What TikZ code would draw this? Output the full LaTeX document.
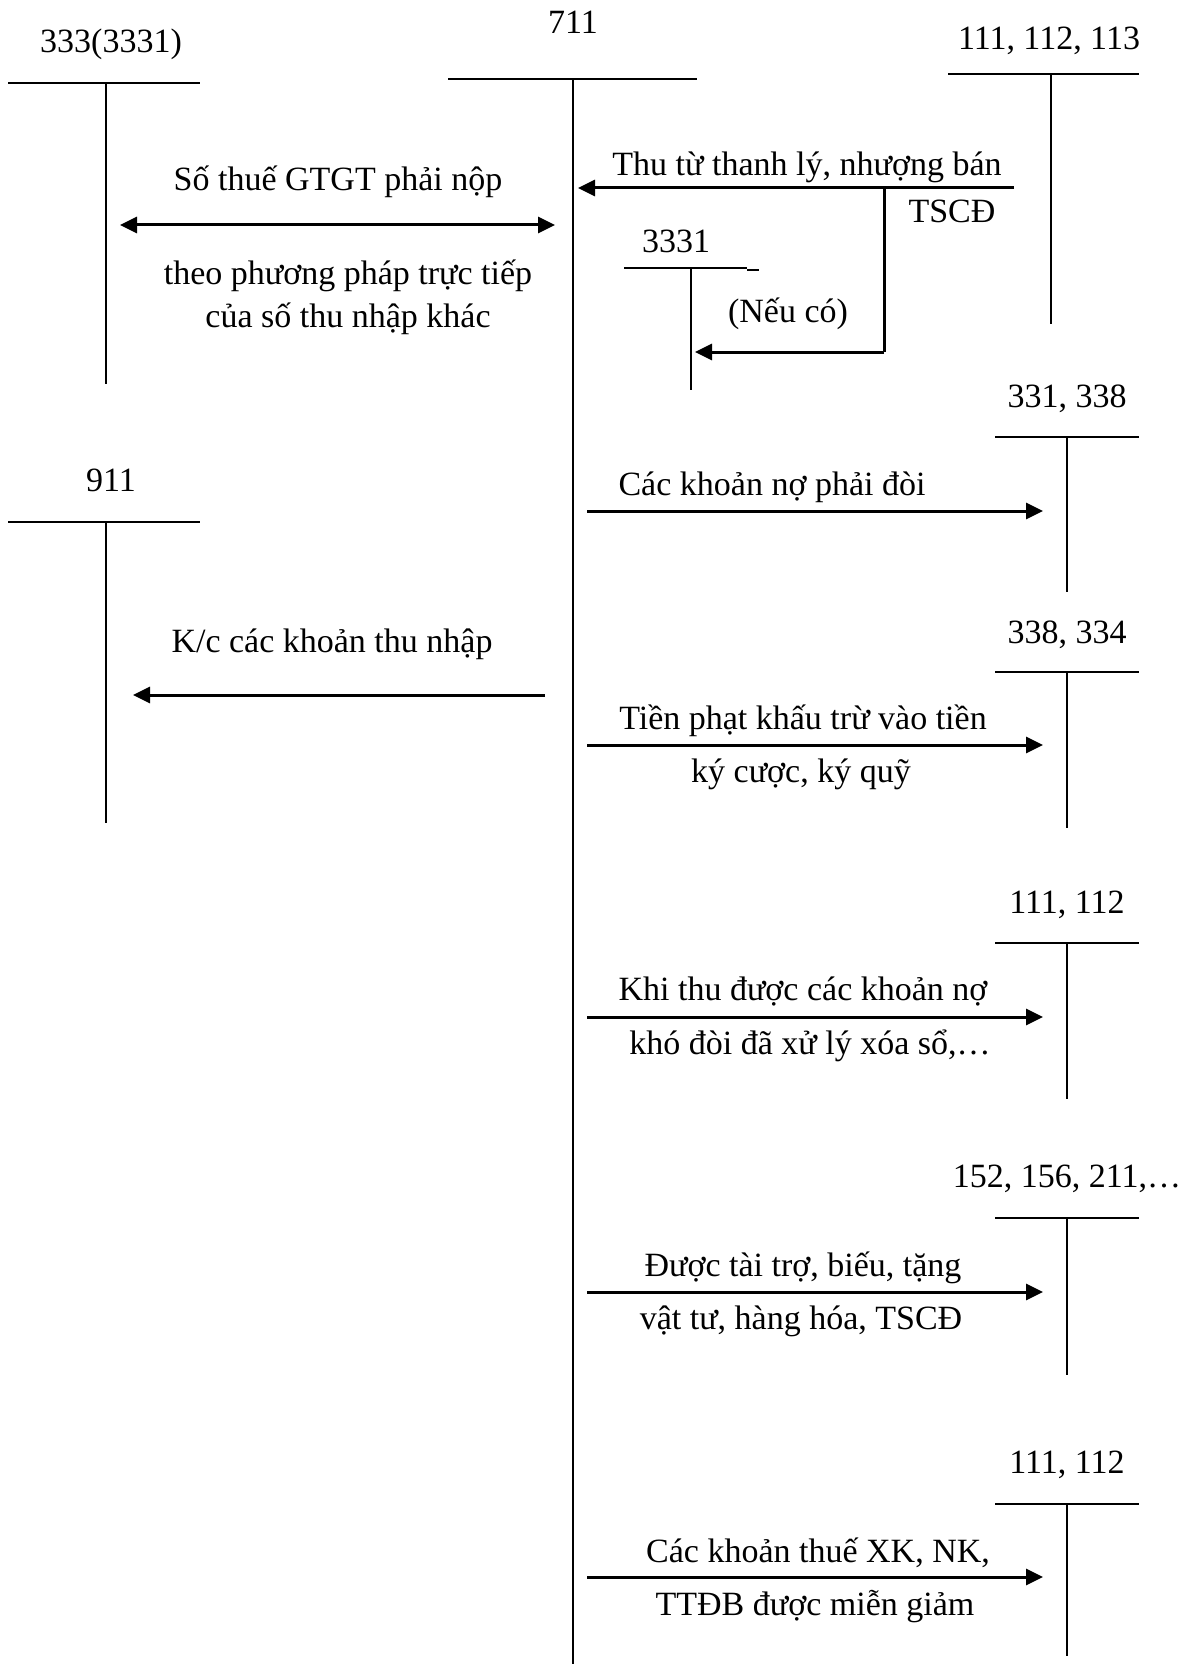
\documentclass[tikz,border=0pt]{standalone}
\usepackage{fontspec}
\setmainfont{Liberation Serif}
\usetikzlibrary{arrows.meta}
\tikzset{
  tacc/.style = {line width = 0.8pt},
  flow/.style = {line width = 1.5pt, -{Triangle[length = 8.5pt, width = 8pt]}},
  flowboth/.style = {line width = 1.5pt, {Triangle[length = 8.5pt, width = 8pt]}-{Triangle[length = 8.5pt, width = 8pt]}},
  lbl/.style = {font = \fontsize{17}{20}\selectfont, inner sep = 0pt, anchor = base}
}
\begin{document}
\begin{tikzpicture}[x = 0.5pt, y = -0.5pt]
        \useasboundingbox (0, 0) rectangle (1192, 1664);
        % T accounts: name/label/label x/baseline/left/right/top/stem x/bottom
        \foreach \tn/\tt/\lx/\ly/\hl/\hr/\hy/\vx/\vb in {
            a333/{333(3331)}/111/53/8/200/83/106/384,
            a711/{711}/573/34/448/697/79/573/1664,
            a111/{111, 112, 113}/1049/50/948/1139/74/1051/324,
            a3331/{3331}/676/253/624/747/268/691/390,
            a331/{331, 338}/1067/407/995/1139/437/1067/592,
            a911/{911}/111/491/8/200/522/106/823,
            a338/{338, 334}/1067/643/995/1139/672/1067/828,
            a111b/{111, 112}/1067/913/995/1139/943/1067/1099,
            a152/{152, 156, 211,…}/1067/1187/995/1139/1218/1067/1375,
            a111c/{111, 112}/1067/1473/995/1139/1504/1067/1656}{
            \node[lbl] (\tn) at (\lx, \ly) {\tt};
            \coordinate (\tn-l) at (\hl, \hy);
            \coordinate (\tn-r) at (\hr, \hy);
            \coordinate (\tn-t) at (\vx, \hy);
            \coordinate (\tn-b) at (\vx, \vb);
            \draw[tacc] (\tn-l) -- (\tn-r);
            \draw[tacc] (\tn-t) -- (\tn-b);
        }
        \draw[tacc] (747, 270) -- (759, 270);
        % entries towards 711 and 333, 911
        \coordinate (gtgt-l) at (120, 225);
        \coordinate (gtgt-r) at (555, 225);
        \draw[flowboth] (gtgt-l) -- (gtgt-r);
        \node[lbl] (gtgt-t) at (338, 191) {Số thuế GTGT phải nộp};
        \node[lbl] (gtgt-b1) at (348, 285) {theo phương pháp trực tiếp};
        \node[lbl] (gtgt-b2) at (348, 327) {của số thu nhập khác};
        \coordinate (tl-s) at (1014, 188);
        \coordinate (tl-e) at (578, 188);
        \coordinate (tl-k) at (884, 188);
        \coordinate (tl-c) at (884, 352);
        \coordinate (tl-v) at (695, 352);
        \draw[flow] (tl-s) -- (tl-e);
        \draw[line width = 1.5pt] (tl-k) -- (tl-c);
        \draw[flow] (tl-c) -- (tl-v);
        \node[lbl] (tl-t) at (807, 176) {Thu từ thanh lý, nhượng bán};
        \node[lbl] (tl-b) at (952, 223) {TSCĐ};
        \node[lbl] (tl-n) at (788, 322) {(Nếu có)};
        \coordinate (kc-s) at (545, 695);
        \coordinate (kc-e) at (133, 695);
        \draw[flow] (kc-s) -- (kc-e);
        \node[lbl] (kc-t) at (332, 652) {K/c các khoản thu nhập};
        % entries from 711 to the right
        \foreach \en/\ey/\et/\etx/\ety/\eb/\ebx/\eby in {
            e1/511/{Các khoản nợ phải đòi}/772/495/{}/772/0,
            e2/745/{Tiền phạt khấu trừ vào tiền}/803/729/{ký cược, ký quỹ}/801/782,
            e3/1017/{Khi thu được các khoản nợ}/803/1000/{khó đòi đã xử lý xóa sổ,…}/810/1054,
            e4/1292/{Được tài trợ, biếu, tặng}/803/1276/{vật tư, hàng hóa, TSCĐ}/801/1329,
            e5/1577/{Các khoản thuế XK, NK,}/818/1562/{TTĐB được miễn giảm}/815/1615}{
            \coordinate (\en-s) at (587, \ey);
            \coordinate (\en-e) at (1043, \ey);
            \draw[flow] (\en-s) -- (\en-e);
            \node[lbl] (\en-t) at (\etx, \ety) {\et};
            \node[lbl] (\en-b) at (\ebx, \eby) {\eb};
        }
    \end{tikzpicture}
\end{document}
